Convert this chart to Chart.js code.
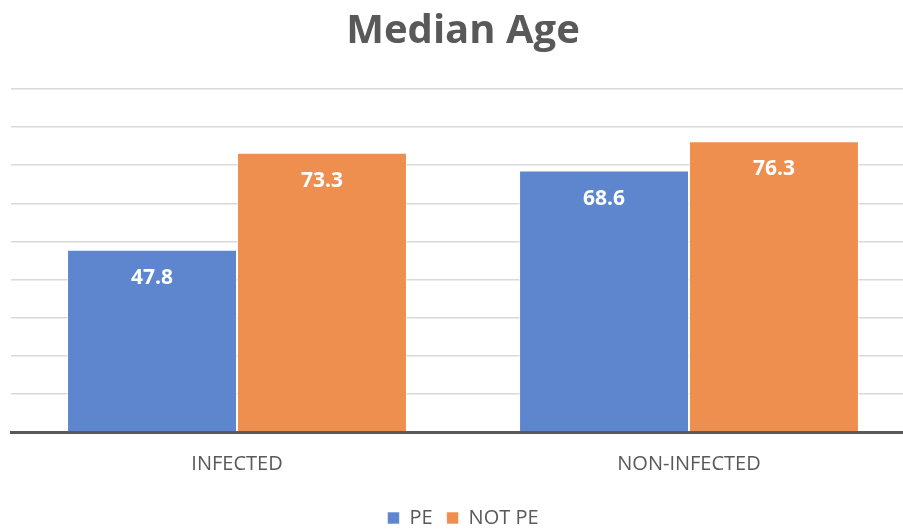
<!DOCTYPE html>
<html>
<head>
<meta charset="utf-8">
<title>Median Age</title>
<script src="https://cdn.jsdelivr.net/npm/chart.js@4"></script>
<style>
    html, body { margin: 0; padding: 0; background: #fff; overflow: hidden; }
    #wrap { position: relative; width: 926px; height: 532px; }
</style>
</head>
<body>
<div id="wrap"><canvas id="chart"></canvas></div>
<script>
// Chart data
const categories = ['INFECTED', 'NON-INFECTED'];
const seriesNames = ['PE', 'NOT PE'];
const peValues = [47.8, 68.6];
const notPeValues = [73.3, 76.3];
const yMin = 0;
const yMax = 90;
const yStep = 10;

const textColor = '#595959';
const fontFamily = "'Open Sans', 'Liberation Sans', sans-serif";

// Draw value labels inside the top of each bar
const barLabels = {
    id: 'barLabels',
    afterDatasetsDraw(chart) {
        const ctx = chart.ctx;
        ctx.save();
        ctx.fillStyle = '#ffffff';
        ctx.font = 'bold 21px ' + fontFamily;
        ctx.textAlign = 'center';
        ctx.textBaseline = 'middle';
        chart.data.datasets.forEach(function(ds, i) {
            chart.getDatasetMeta(i).data.forEach(function(bar, j) {
                ctx.fillText(ds.data[j].toFixed(1), bar.x, bar.y + 28);
            });
        });
        ctx.restore();
    }
};

new Chart(document.getElementById('chart'), {
    type: 'bar',
    data: {
        labels: categories,
        datasets: [{
            label: seriesNames[0],
            data: peValues,
            backgroundColor: '#5e86ce',
            borderColor: 'rgba(255,255,255,0.6)',
            borderWidth: 1,
            categoryPercentage: 0.752,
            barPercentage: 1
        }, {
            label: seriesNames[1],
            data: notPeValues,
            backgroundColor: '#ee8f50',
            borderColor: 'rgba(255,255,255,0.6)',
            borderWidth: 1,
            categoryPercentage: 0.752,
            barPercentage: 1
        }]
    },
    options: {
        responsive: true,
        maintainAspectRatio: false,
        animation: false,
        layout: {
            padding: { left: 11, right: 11, top: 0, bottom: -6 }
        },
        plugins: {
            title: {
                display: true,
                text: 'Median Age',
                color: textColor,
                font: { family: fontFamily, size: 40, weight: 'bold' },
                padding: { top: 8, bottom: 33 }
            },
            legend: {
                position: 'bottom',
                labels: {
                    color: textColor,
                    font: { family: fontFamily, size: 20 },
                    boxWidth: 12,
                    boxHeight: 12,
                    padding: 14
                }
            },
            tooltip: { enabled: false }
        },
        scales: {
            x: {
                grid: { display: false },
                border: { display: true, color: '#595959', width: 3 },
                ticks: {
                    color: textColor,
                    font: { family: fontFamily, size: 20 },
                    padding: 12
                },
                afterFit(scale) {
                    scale.height += 6;
                }
            },
            y: {
                min: yMin,
                max: yMax,
                ticks: { display: false, stepSize: yStep },
                border: { display: false },
                grid: { color: '#d9d9d9', lineWidth: 1.5, drawTicks: false }
            }
        }
    },
    plugins: [barLabels]
});
</script>
</body>
</html>
